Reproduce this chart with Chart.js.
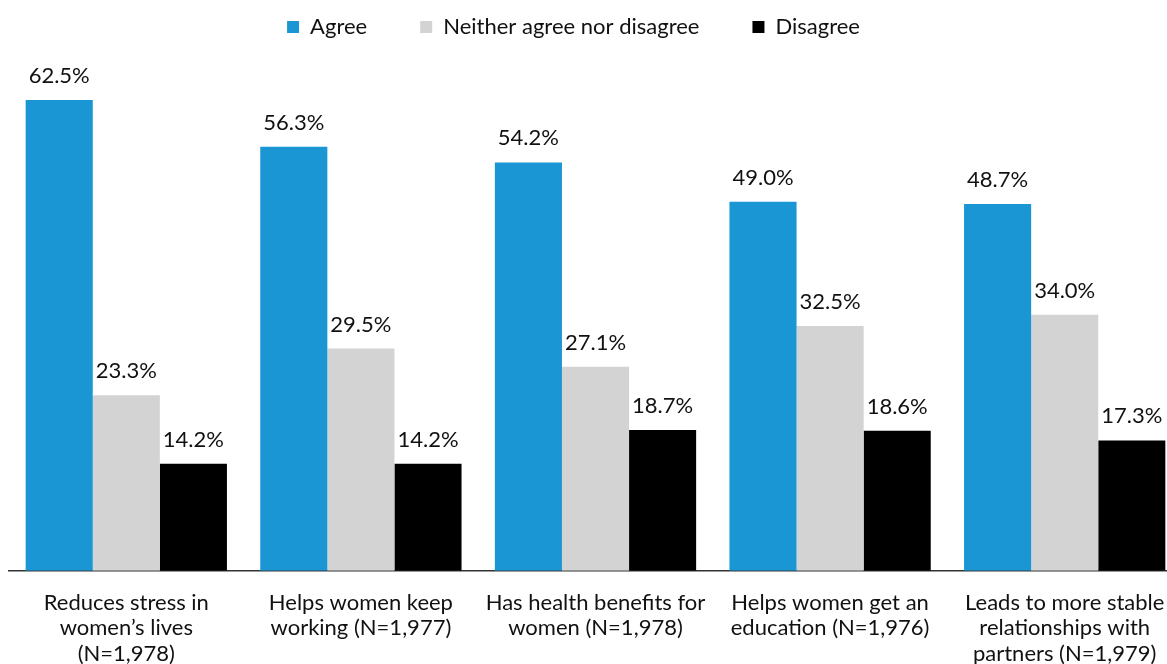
<!DOCTYPE html>
<html>
<head>
<meta charset="utf-8">
<script src="https://cdn.jsdelivr.net/npm/chart.js@4.4.1/dist/chart.umd.min.js"></script>
<style>
    html, body { margin: 0; padding: 0; background: #fff; overflow: hidden; }
    #wrap { width: 1182px; height: 664px; position: relative; }
</style>
</head>
<body>
<div id="wrap"><canvas id="chart"></canvas></div>
<script>
// ── Data ───────────────────────────────────────────────────────────────────────

const categories = [
    ["Reduces stress in", "women’s lives", "(N=1,978)"],
    ["Helps women keep", "working (N=1,977)"],
    ["Has health benefits for", "women (N=1,978)"],
    ["Helps women get an", "education (N=1,976)"],
    ["Leads to more stable", "relationships with", "partners (N=1,979)"]
];
const seriesNames  = ["Agree", "Neither agree nor disagree", "Disagree"];
const agreeVals    = [62.5, 56.3, 54.2, 49.0, 48.7];
const neitherVals  = [23.3, 29.5, 27.1, 32.5, 34.0];
const disagreeVals = [14.2, 14.2, 18.7, 18.6, 17.3];

const colors = ["#1996d3", "#d3d3d3", "#000000"];
const FONT = "Lato";

// ── Plugins ────────────────────────────────────────────────────────────────────

// value labels above each bar
const valueLabels = {
    id: "valueLabels",
    afterDatasetsDraw(chart) {
        const ctx = chart.ctx;
        ctx.save();
        ctx.font = `22px ${FONT}`;
        ctx.fillStyle = "#111";
        ctx.textAlign = "center";
        ctx.textBaseline = "alphabetic";
        chart.data.datasets.forEach((ds, i) => {
            chart.getDatasetMeta(i).data.forEach((bar, j) => {
                ctx.fillText(ds.data[j].toFixed(1) + "%", bar.x, bar.y - 17);
            });
        });
        ctx.restore();
    }
};

// legend sits a bit left of the plot centre in the original
const legendShift = {
    id: "legendShift",
    afterLayout(chart) {
        chart.legend.left  -= 22;
        chart.legend.right -= 22;
    }
};

new Chart(document.getElementById("chart"), {
    type: "bar",
    data: {
        labels: categories,
        datasets: [
            { label: seriesNames[0], data: agreeVals,    backgroundColor: colors[0] },
            { label: seriesNames[1], data: neitherVals,  backgroundColor: colors[1] },
            { label: seriesNames[2], data: disagreeVals, backgroundColor: colors[2] }
        ]
    },
    options: {
        responsive: true,
        maintainAspectRatio: false,
        animation: false,
        layout: { padding: { left: 9, right: 0, top: -37, bottom: -14 } },
        datasets: { bar: { categoryPercentage: 0.858, barPercentage: 1.0 } },
        plugins: {
            legend: {
                position: "top",
                labels: {
                    font: { family: FONT, size: 22 },
                    color: "#111",
                    boxWidth: 12,
                    boxHeight: 12,
                    padding: 53
                }
            },
            tooltip: { enabled: false }
        },
        scales: {
            y: {
                display: false,
                min: 0,
                max: 69.4
            },
            x: {
                grid: { display: false },
                border: { display: true, color: "#333", width: 1.5 },
                ticks: {
                    font: { family: FONT, size: 22, lineHeight: 1.14 },
                    color: "#111",
                    maxRotation: 0,
                    autoSkip: false,
                    padding: 12
                }
            }
        }
    },
    plugins: [valueLabels, legendShift]
});
</script>
</body>
</html>
